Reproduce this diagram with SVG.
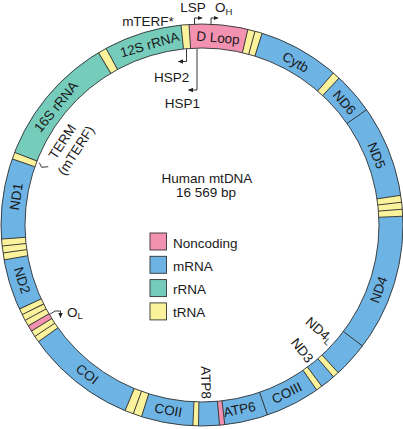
<svg xmlns="http://www.w3.org/2000/svg" width="403" height="429" viewBox="0 0 403 429">
<style>
text{font-family:"Liberation Sans",Arial,sans-serif;font-size:13.5px;fill:#1a1a1a}
.seg{fill:none;stroke-width:24}
.y{stroke:#fbf29c}.p{stroke:#f291b0}.t{stroke:#76ccbb}.b{stroke:#6db3e3}
.edge{fill:none;stroke:#333;stroke-width:0.9}
.tick{stroke:#333;stroke-width:0.9}
.lead{fill:none;stroke:#222;stroke-width:0.9}
.lg{stroke:#333;stroke-width:0.9}
</style>
<defs>
<line id="tk" class="tick" x1="202" y1="24" x2="202" y2="48"/>
<marker id="ah" viewBox="0 0 10 10" refX="9" refY="5" markerWidth="5" markerHeight="5" markerUnits="userSpaceOnUse" orient="auto"><path d="M0,0.5 L10,5 L0,9.5 z" fill="#222"/></marker>
</defs>
<rect width="403" height="429" fill="#fff"/>

<g id="ring">
<circle class="seg b" cx="202" cy="225" r="189"/>
</g>

<g id="rrna-16S">
<circle class="seg t" cx="202" cy="225" r="189" stroke-dasharray="124.69 2000" transform="rotate(201.2 202 225)"/>
<text x="202" y="41.8" text-anchor="middle" transform="rotate(-51 202 225)">16S rRNA</text>
</g>
<g id="rrna-12S">
<circle class="seg t" cx="202" cy="225" r="189" stroke-dasharray="74.22 2000" transform="rotate(241.5 202 225)"/>
<text x="202" y="41.8" text-anchor="middle" transform="rotate(-16.2 202 225)">12S rRNA</text>
</g>
<g id="dloop">
<circle class="seg p" cx="202" cy="225" r="189" stroke-dasharray="56.74 2000" transform="rotate(266.3 202 225)"/>
<text x="202" y="41.8" text-anchor="middle" transform="rotate(4.9 202 225)">D Loop</text>
</g>
<g id="cytb">
<circle class="seg b" cx="202" cy="225" r="189" stroke-dasharray="77.19 2000" transform="rotate(-72.6 202 225)"/>
<text x="202" y="41.8" text-anchor="middle" transform="rotate(29.9 202 225)">Cytb</text>
</g>
<g id="nd6">
<circle class="seg b" cx="202" cy="225" r="189" stroke-dasharray="39.58 2000" transform="rotate(-47 202 225)"/>
<text x="202" y="41.8" text-anchor="middle" transform="rotate(49.3 202 225)">ND6</text>
</g>
<g id="nd5">
<circle class="seg b" cx="202" cy="225" r="189" stroke-dasharray="87.42 2000" transform="rotate(-35 202 225)"/>
<text x="202" y="41.8" text-anchor="middle" transform="rotate(68.3 202 225)">ND5</text>
</g>
<g id="nd4">
<circle class="seg b" cx="202" cy="225" r="189" stroke-dasharray="130.3 2000" transform="rotate(-2.5 202 225)"/>
<text x="202" y="417.8" text-anchor="middle" transform="rotate(-69.9 202 225)">ND4</text>
</g>
<g id="nd4l">
<circle class="seg b" cx="202" cy="225" r="189" stroke-dasharray="33.98 2000" transform="rotate(37 202 225)"/>
<text x="376" y="229.8" text-anchor="end" transform="rotate(41.75 202 225)">ND4<tspan font-size="9.5" dy="2">L</tspan></text>
</g>
<g id="nd3">
<circle class="seg b" cx="202" cy="225" r="189" stroke-dasharray="14.18 2000" transform="rotate(49.1 202 225)"/>
<text x="376" y="229.8" text-anchor="end" transform="rotate(51.3 202 225)">ND3</text>
</g>
<g id="coiii">
<circle class="seg b" cx="202" cy="225" r="189" stroke-dasharray="52.12 2000" transform="rotate(55.2 202 225)"/>
<text x="202" y="417.8" text-anchor="middle" transform="rotate(-26.8 202 225)">COIII</text>
</g>
<g id="atp6">
<circle class="seg b" cx="202" cy="225" r="189" stroke-dasharray="41.23 2000" transform="rotate(71 202 225)"/>
<text x="202" y="417.8" text-anchor="middle" transform="rotate(-11.5 202 225)">ATP6</text>
</g>
<g id="atp8">
<circle class="seg b" cx="202" cy="225" r="189" stroke-dasharray="19.79 2000" transform="rotate(85 202 225)"/>
<text x="376" y="229.8" text-anchor="end" transform="rotate(88.5 202 225)">ATP8</text>
</g>
<g id="coii">
<circle class="seg b" cx="202" cy="225" r="189" stroke-dasharray="49.15 2000" transform="rotate(92.6 202 225)"/>
<text x="202" y="417.8" text-anchor="middle" transform="rotate(10.3 202 225)">COII</text>
</g>
<g id="coi">
<circle class="seg b" cx="202" cy="225" r="189" stroke-dasharray="105.56 2000" transform="rotate(112.5 202 225)"/>
<text x="202" y="417.8" text-anchor="middle" transform="rotate(37.6 202 225)">COI</text>
</g>
<g id="nd2">
<circle class="seg b" cx="202" cy="225" r="189" stroke-dasharray="48.49 2000" transform="rotate(155.3 202 225)"/>
<text x="202" y="417.8" text-anchor="middle" transform="rotate(72.9 202 225)">ND2</text>
</g>
<g id="nd1">
<circle class="seg b" cx="202" cy="225" r="189" stroke-dasharray="76.53 2000" transform="rotate(176 202 225)"/>
<text x="202" y="41.8" text-anchor="middle" transform="rotate(-81.3 202 225)">ND1</text>
</g>

<g id="trna">
<circle class="seg y" cx="202" cy="225" r="189" stroke-dasharray="7.59 2000" transform="rotate(264 202 225)"/>
<circle class="seg y" cx="202" cy="225" r="189" stroke-dasharray="13.85 2000" transform="rotate(-76.8 202 225)"/>
<circle class="seg y" cx="202" cy="225" r="189" stroke-dasharray="7.26 2000" transform="rotate(-49.2 202 225)"/>
<circle class="seg y" cx="202" cy="225" r="189" stroke-dasharray="19.79 2000" transform="rotate(-8.5 202 225)"/>
<circle class="seg y" cx="202" cy="225" r="189" stroke-dasharray="5.94 2000" transform="rotate(47.3 202 225)"/>
<circle class="seg y" cx="202" cy="225" r="189" stroke-dasharray="5.94 2000" transform="rotate(53.4 202 225)"/>
<circle class="seg y" cx="202" cy="225" r="189" stroke-dasharray="5.28 2000" transform="rotate(91 202 225)"/>
<circle class="seg y" cx="202" cy="225" r="189" stroke-dasharray="16.49 2000" transform="rotate(107.5 202 225)"/>
<circle class="seg y" cx="202" cy="225" r="189" stroke-dasharray="35.63 2000" transform="rotate(144.5 202 225)"/>
<circle class="seg y" cx="202" cy="225" r="189" stroke-dasharray="19.79 2000" transform="rotate(170 202 225)"/>
<circle class="seg y" cx="202" cy="225" r="189" stroke-dasharray="6.6 2000" transform="rotate(199.2 202 225)"/>
<circle class="seg y" cx="202" cy="225" r="189" stroke-dasharray="8.25 2000" transform="rotate(239 202 225)"/>
</g>
<g id="noncoding-small">
<circle class="seg p" cx="202" cy="225" r="189" stroke-dasharray="4.95 2000" transform="rotate(83.5 202 225)"/>
<circle class="seg p" cx="202" cy="225" r="189" stroke-dasharray="5.94 2000" transform="rotate(148.1 202 225)"/>
</g>

<g id="ring-outline">
<circle class="edge" cx="202" cy="225" r="201"/>
<circle class="edge" cx="202" cy="225" r="177"/>
<use href="#tk" transform="rotate(354 202 225)"/>
<use href="#tk" transform="rotate(356.3 202 225)"/>
<use href="#tk" transform="rotate(13.2 202 225)"/>
<use href="#tk" transform="rotate(15.3 202 225)"/>
<use href="#tk" transform="rotate(17.4 202 225)"/>
<use href="#tk" transform="rotate(40.8 202 225)"/>
<use href="#tk" transform="rotate(43 202 225)"/>
<use href="#tk" transform="rotate(55 202 225)"/>
<use href="#tk" transform="rotate(81.5 202 225)"/>
<use href="#tk" transform="rotate(83.5 202 225)"/>
<use href="#tk" transform="rotate(85.5 202 225)"/>
<use href="#tk" transform="rotate(87.5 202 225)"/>
<use href="#tk" transform="rotate(127 202 225)"/>
<use href="#tk" transform="rotate(137.3 202 225)"/>
<use href="#tk" transform="rotate(139.1 202 225)"/>
<use href="#tk" transform="rotate(143.4 202 225)"/>
<use href="#tk" transform="rotate(145.2 202 225)"/>
<use href="#tk" transform="rotate(161 202 225)"/>
<use href="#tk" transform="rotate(173.5 202 225)"/>
<use href="#tk" transform="rotate(175 202 225)"/>
<use href="#tk" transform="rotate(181 202 225)"/>
<use href="#tk" transform="rotate(182.6 202 225)"/>
<use href="#tk" transform="rotate(197.5 202 225)"/>
<use href="#tk" transform="rotate(200 202 225)"/>
<use href="#tk" transform="rotate(202.5 202 225)"/>
<use href="#tk" transform="rotate(234.5 202 225)"/>
<use href="#tk" transform="rotate(236.3 202 225)"/>
<use href="#tk" transform="rotate(238.1 202 225)"/>
<use href="#tk" transform="rotate(239.9 202 225)"/>
<use href="#tk" transform="rotate(241.7 202 225)"/>
<use href="#tk" transform="rotate(243.5 202 225)"/>
<use href="#tk" transform="rotate(245.3 202 225)"/>
<use href="#tk" transform="rotate(260 202 225)"/>
<use href="#tk" transform="rotate(262 202 225)"/>
<use href="#tk" transform="rotate(264 202 225)"/>
<use href="#tk" transform="rotate(266 202 225)"/>
<use href="#tk" transform="rotate(289.2 202 225)"/>
<use href="#tk" transform="rotate(291.2 202 225)"/>
<use href="#tk" transform="rotate(329 202 225)"/>
<use href="#tk" transform="rotate(331.5 202 225)"/>
</g>

<g id="title">
<text x="207" y="182.5" text-anchor="middle">Human mtDNA</text>
<text x="206" y="197" text-anchor="middle">16 569 bp</text>
</g>

<g id="legend">
<rect class="lg" x="150" y="233" width="16.5" height="17" fill="#f291b0"/>
<text x="173" y="247.5">Noncoding</text>
<rect class="lg" x="150" y="256.3" width="16.5" height="17" fill="#6db3e3"/>
<text x="173" y="270.8">mRNA</text>
<rect class="lg" x="150" y="279.6" width="16.5" height="17" fill="#76ccbb"/>
<text x="173" y="294.1">rRNA</text>
<rect class="lg" x="150" y="302.9" width="16.5" height="17" fill="#fbf29c"/>
<text x="173" y="317.4">tRNA</text>
</g>

<g id="annotations">
<text x="148" y="26" text-anchor="middle">mTERF*</text>
<text x="193" y="12" text-anchor="middle">LSP</text>
<text x="215" y="12">O<tspan font-size="9.5" dy="3">H</tspan></text>
<text x="171.7" y="81.7" text-anchor="middle">HSP2</text>
<text x="182.5" y="108" text-anchor="middle">HSP1</text>
<text x="67" y="317">O<tspan font-size="9.5" dy="2">L</tspan></text>
<g transform="translate(69 146) rotate(-57)">
<text x="0" y="-3.4" text-anchor="middle">TERM</text>
<text x="0" y="12.9" text-anchor="middle">(mTERF)</text>
</g>
</g>

<g id="connectors">
<path class="lead" d="M194.5,24 V18 H202" marker-end="url(#ah)"/>
<path class="lead" d="M211,24.5 V18 H218" marker-end="url(#ah)"/>
<path class="lead" d="M186.5,49 V61.5 H178.5" marker-end="url(#ah)"/>
<path class="lead" d="M197,49 V90 H188.5" marker-end="url(#ah)"/>
<path class="lead" d="M49.5,314.5 L55,311 H60.5 V317.5" marker-end="url(#ah)"/>
<path class="lead" d="M39.3,162.7 L41.7,167.3 L48.3,166.7"/>
</g>
</svg>
